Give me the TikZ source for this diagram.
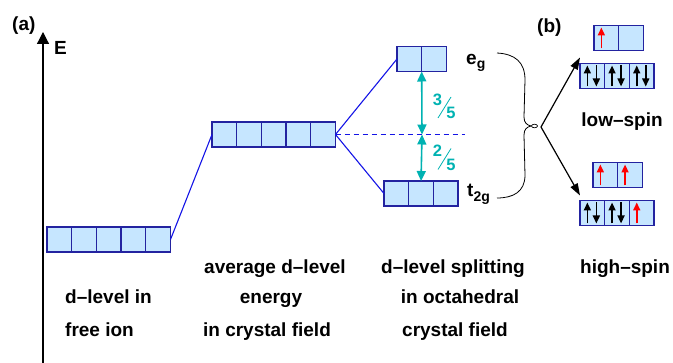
\documentclass[tikz,border=0pt]{standalone}
\usepackage{fontspec}
\setmainfont{Liberation Sans}
\usetikzlibrary{arrows.meta,calc}
\definecolor{cellfill}{RGB}{198,230,255}
\definecolor{celldraw}{RGB}{35,35,160}
\definecolor{lineblue}{RGB}{20,20,230}
\definecolor{tealsplit}{RGB}{0,178,178}
\definecolor{spinred}{RGB}{255,0,0}
\newcommand{\orbrow}[4]{\foreach \k in {1,...,#4}{\node[cell] (#1\k) at ({#2+12.35+24.7*(\k-1)},#3) {};}}
\newcommand{\sUp}[2][black]{\draw[spin,#1] ([xshift=-5pt,yshift=2pt]#2.south) -- ([xshift=-5pt,yshift=-2pt]#2.north);}
\newcommand{\sDown}[2][black]{\draw[spin,#1] ([xshift=4pt,yshift=-2pt]#2.north) -- ([xshift=4pt,yshift=2pt]#2.south);}
\begin{document}
\begin{tikzpicture}[x=1pt,y=-1pt,
 cell/.style={draw=celldraw, fill=cellfill, line width=1.3pt, minimum width=24.7pt, minimum height=25pt, inner sep=0pt, outer sep=0pt},
 lbl/.style={font=\fontsize{19}{22}\selectfont\bfseries, inner sep=0pt},
 level/.style={draw=lineblue, line width=1.1pt},
 split/.style={tealsplit, line width=1.6pt, {Triangle[width=9pt,length=10pt]}-{Triangle[width=9pt,length=10pt]}},
 frac/.style={tealsplit, font=\fontsize{16.5}{16.5}\selectfont\bfseries, inner sep=0pt},
 slash/.style={tealsplit, line width=0.8pt},
 spin/.style={line width=1.6pt, -{Triangle[width=7pt,length=8pt]}},
 pick/.style={line width=1.2pt, -{Triangle[width=8pt,length=12pt]}},
 axisline/.style={line width=1.2pt, -{Triangle[width=12pt,length=12pt]}},
]
\useasboundingbox (0,0) rectangle (673,363);

% axis
\coordinate (axb) at (43,363);
\coordinate (axt) at (43,32);
\draw[axisline] (axb) -- (axt);
\node[lbl, anchor=base west] (E) at (54,55) {E};
\node[lbl, anchor=base west] (a) at (12,31) {(a)};
\node[lbl, anchor=base west] (b) at (537,33) {(b)};

% levels
\orbrow{fr}{47}{239.5}{5}
\orbrow{av}{212}{134.5}{5}
\orbrow{eg}{397}{59}{2}
\orbrow{tg}{384}{193.5}{3}
\orbrow{le}{594}{38}{2}
\orbrow{lt}{580}{76}{3}
\orbrow{he}{593}{175}{2}
\orbrow{ht}{580}{213}{3}

\draw[level] (fr5.east) -- (av1.west);
\draw[level] (av5.east) -- (eg1.west);
\draw[level] (av5.east) -- (tg1.west);
\coordinate (mid) at (422,134.5);
\coordinate (dashend) at (465,134.5);
\draw[level, dash pattern=on 5pt off 4pt] (av5.east) -- (dashend);
\draw[split] (eg1.south east) -- (mid);
\draw[split] (mid) -- (tg2.north);

% fractions 3/5 and 2/5
\node[frac] (n3) at (437.5,99.5) {3};
\node[frac] (d5a) at (451,113) {5};
\draw[slash] (438,118) -- (451,97);
\node[frac] (n2) at (437.5,151) {2};
\node[frac] (d5b) at (451,164.5) {5};
\draw[slash] (438,169.5) -- (451,148.5);

\node[lbl, anchor=base west] (eglbl) at (466,65) {e\raisebox{-4pt}{\fontsize{14}{14}\selectfont g}};
\node[lbl, anchor=base west] (tglbl) at (467,197) {t\raisebox{-5pt}{\fontsize{14}{14}\selectfont 2g}};

% brace
\draw[line width=0.8pt] (497,53) .. controls (515,54) and (525,62) .. (525,80) -- (524,117) .. controls (524,123) and (527,125) .. (531,126) .. controls (527,127) and (524,129) .. (524,135) -- (525,175) .. controls (525,192) and (513,198) .. (497,198);
\draw[line width=0.7pt] (534.5,126) ellipse [x radius=3, y radius=1.8];
\coordinate (bt) at (541,127);
\draw[pick] (bt) -- ([yshift=6pt]lt1.north west);
\draw[pick] (bt) -- ([yshift=5pt]ht1.north west);

% spins
\sUp[spinred]{le1}
\foreach \c in {lt1,lt2,lt3,ht1,ht2}{\sUp{\c}\sDown{\c}}
\sUp[spinred]{he1}
\sUp[spinred]{he2}
\sUp[spinred]{ht3}

\node[lbl, anchor=base] (ls) at (622,127) {low--spin};
\node[lbl, anchor=base] (hs) at (625,274) {high--spin};

% captions
\node[lbl, anchor=base west] (c1a) at (65,304) {d--level in};
\node[lbl, anchor=base west] (c1b) at (65,337) {free ion};
\node[lbl, anchor=base] (c2a) at (275,274) {average d--level};
\node[lbl, anchor=base] (c2b) at (271,304) {energy};
\node[lbl, anchor=base] (c2c) at (267,337) {in crystal field};
\node[lbl, anchor=base] (c3a) at (453,274) {d--level splitting};
\node[lbl, anchor=base] (c3b) at (460,304) {in octahedral};
\node[lbl, anchor=base] (c3c) at (455,337) {crystal field};
\end{tikzpicture}
\end{document}
